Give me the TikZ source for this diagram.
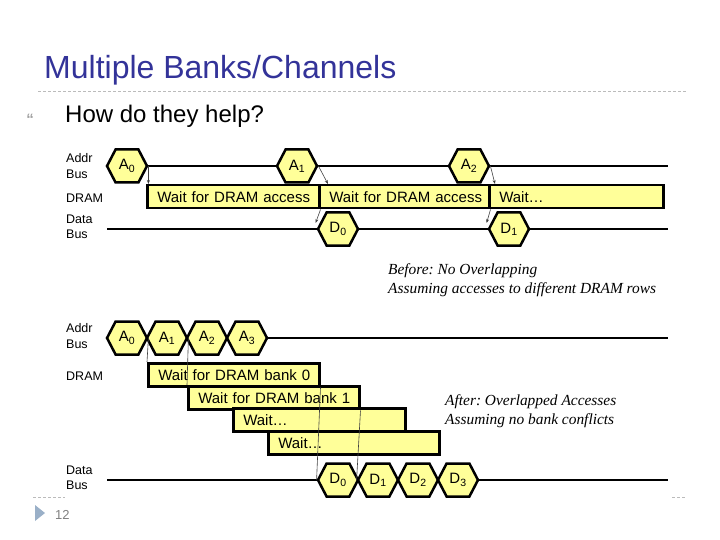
\documentclass[tikz,border=0pt]{standalone}
\usepackage{fontspec}
\setmainfont{Liberation Sans}
\newfontfamily\noteserif{Liberation Serif}
\usepackage{tikz}
\usetikzlibrary{arrows.meta, positioning, shapes.symbols, calc}
\definecolor{TitleBlue}{HTML}{333399}
\definecolor{BusYellow}{HTML}{FFFF99}
\definecolor{RuleGray}{HTML}{BBBBBB}
\definecolor{BulletGray}{HTML}{A0A0A0}
\definecolor{MarkerBlue}{HTML}{9AB0C8}
\definecolor{PageGray}{HTML}{7F7F7F}
\definecolor{GuideGray}{HTML}{404040}
\frenchspacing

\begin{document}
\begin{tikzpicture}[x=1pt, y=-1pt,
  hexbox/.style={signal, signal to=east and west, signal pointer angle=125, draw=black, line width=2.5pt, fill=BusYellow, minimum width=40pt, minimum height=33pt, inner sep=0pt, font=\fontsize{15}{15}\selectfont},
  waitbar/.style={draw=black, line width=2.5pt, fill=BusYellow, anchor=north west, minimum height=23pt, inner xsep=10pt, inner ysep=0pt, text width=#1, align=left, font=\fontsize{15}{17}\selectfont},
  bus/.style={line width=2.5pt},
  guide/.style={GuideGray, line width=0.6pt},
  busname/.style={anchor=west, align=left, inner sep=0pt, font=\fontsize{12.5}{15.5}\selectfont},
  note/.style={anchor=west, align=left, inner sep=0pt, font=\noteserif\itshape\fontsize{15.4}{19}\selectfont},
  rule/.style={RuleGray, line width=0.8pt, dash pattern=on 3pt off 2pt}]
  \useasboundingbox (0,0) rectangle (720,540);

  % slide frame
  \node[anchor=base west, inner sep=0pt, text=TitleBlue, font=\fontsize{32}{32}\selectfont] (title) at (44,79) {Multiple Banks/Channels};
  \draw[rule] (38,91) -- (686,91);
  \node[text=BulletGray, inner sep=0pt, font=\bfseries\fontsize{15}{15}\selectfont] (bullet) at (30,119) {“};
  \node[anchor=base west, inner sep=0pt, font=\fontsize{24}{24}\selectfont] (question) at (65,123) {How do they help?};

  % before: no overlapping
  \node[busname] (addrtop) at (66,166) {Addr\\Bus};
  \node[busname] (dramtop) at (66,198) {DRAM};
  \node[busname] (datatop) at (66,227) {Data\\Bus};
  \node[waitbar=152pt] (wait0) at (146,184) {\mbox{Wait for DRAM access}};
  \node[waitbar=150pt] (wait1) at (318,184) {\mbox{Wait for DRAM access}};
  \node[waitbar=154pt] (wait2) at (488,184) {Wait…};
  \node[hexbox] (a0) at (127,166) {A\textsubscript{0}};
  \node[hexbox] (a1) at (297,166) {A\textsubscript{1}};
  \node[hexbox] (a2) at (469,166) {A\textsubscript{2}};
  \coordinate (addrend) at (668,166);
  \draw[bus] (a0.east) -- (a1.west) (a1.east) -- (a2.west) (a2.east) -- (addrend);
  \coordinate (datastart) at (107,229);
  \node[hexbox] (d0) at (338,229) {D\textsubscript{0}};
  \node[hexbox] (d1) at (509,229) {D\textsubscript{1}};
  \coordinate (dataend) at (668,229);
  \draw[bus] (datastart) -- (d0.west) (d0.east) -- (d1.west) (d1.east) -- (dataend);
  \draw[guide, -{Stealth[length=4pt, width=3pt]}] (a0.east) -- (a0.east |- wait0.north);
  \draw[guide, -{Stealth[length=4pt, width=3pt]}] (a1.east) -- ($(wait1.north west)+(10,0)$);
  \draw[guide, -{Stealth[length=4pt, width=3pt]}] (a2.east) -- ($(wait2.north west)+(7,0)$);
  \draw[guide, -{Stealth[length=4pt, width=3pt]}] (wait0.south east) -- ($(d0.west)+(-1,-6)$);
  \draw[guide, -{Stealth[length=4pt, width=3pt]}] (wait1.south east) -- ($(d1.west)+(-1,-6)$);
  \node[note] (before) at (388,280) {Before: No Overlapping\\Assuming accesses to different DRAM rows};

  % after: overlapped accesses
  \node[busname] (addrbot) at (66,336) {Addr\\Bus};
  \node[busname] (drambot) at (66,376) {DRAM};
  \node[busname] (databot) at (66,478) {Data\\Bus};
  \node[waitbar=151pt] (bank0) at (147,362) {\mbox{Wait for DRAM bank 0}};
  \node[waitbar=151pt] (bank1) at (187,385) {\mbox{Wait for DRAM bank 1}};
  \node[waitbar=152pt] (bank2) at (232,407) {Wait…};
  \node[waitbar=151pt] (bank3) at (267,430) {Wait…};
  \node[hexbox] (oa0) at (127,338) {A\textsubscript{0}};
  \node[hexbox] (oa1) at (167,338) {A\textsubscript{1}};
  \node[hexbox] (oa2) at (207,338) {A\textsubscript{2}};
  \node[hexbox] (oa3) at (247,338) {A\textsubscript{3}};
  \coordinate (oaddrend) at (668,338);
  \draw[bus] (oa3.east) -- (oaddrend);
  \coordinate (odatastart) at (107,480);
  \node[hexbox] (od0) at (338,480) {D\textsubscript{0}};
  \node[hexbox] (od1) at (378,480) {D\textsubscript{1}};
  \node[hexbox] (od2) at (418,480) {D\textsubscript{2}};
  \node[hexbox] (od3) at (458,480) {D\textsubscript{3}};
  \coordinate (odataend) at (668,480);
  \draw[bus] (odatastart) -- (od0.west) (od3.east) -- (odataend);
  \draw[guide] (oa0.east) -- (bank0.north west);
  \draw[guide] (oa1.east) -- (bank1.north west);
  \draw[guide] (bank0.south east) -- (od0.west);
  \draw[guide] (bank1.south east) -- (od1.west);
  \node[note] (after) at (445,411) {After: Overlapped Accesses\\Assuming no bank conflicts};

  % footer
  \draw[rule] (33,497) -- (65,497);
  \draw[rule] (672,497) -- (686,497);
  \fill[MarkerBlue] (35,505) -- (35,521) -- (45,513) -- cycle;
  \node[anchor=base west, inner sep=0pt, text=PageGray, font=\fontsize{13}{13}\selectfont] (pagenum) at (55,519) {12};
\end{tikzpicture}
\end{document}
